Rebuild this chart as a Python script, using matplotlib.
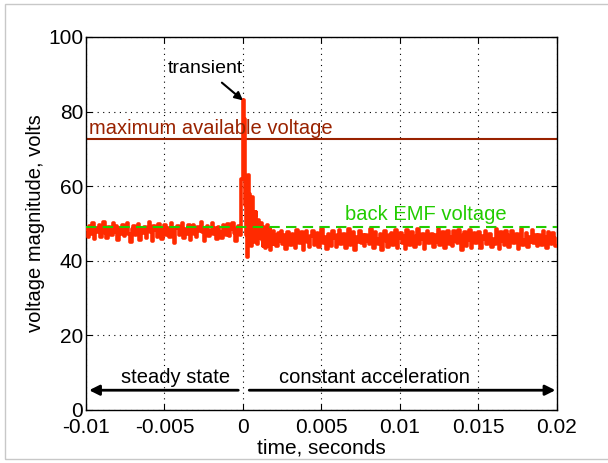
import matplotlib.pyplot as plt
import numpy as np
from matplotlib.patches import Rectangle

plt.rcParams['font.family'] = ['Liberation Sans', 'DejaVu Sans']

# steady state samples, t = -0.01 .. 0, every 0.1 ms
steady_volts = [
    48.6, 46.3, 49.2, 47.1, 50.1, 45.9, 48.8, 47.6, 49.5, 46.4,
    48.1, 50.3, 47.4, 46.0, 49.0, 48.2, 46.9, 50.0, 47.8, 49.3,
    45.5, 48.7, 47.2, 49.7, 46.6, 48.9, 50.2, 47.3, 45.0, 48.4,
    49.4, 46.8, 48.0, 49.9, 45.7, 48.6, 47.5, 49.1, 46.2, 48.8,
    50.4, 47.7, 45.2, 49.3, 48.3, 46.5, 49.8, 47.9, 45.8, 48.5,
    49.6, 47.0, 48.9, 46.3, 50.1, 47.4, 44.8, 48.7, 49.2, 46.9,
    48.2, 50.0, 46.1, 48.6, 47.3, 49.5, 45.6, 48.4, 49.7, 47.1,
    46.4, 49.0, 48.1, 50.3, 47.6, 45.3, 48.8, 49.4, 46.7, 48.0,
    50.2, 47.2, 48.9, 45.9, 49.1, 47.8, 46.2, 49.6, 48.3, 47.0,
    49.8, 46.6, 48.5, 50.0, 47.5, 45.4, 48.7, 49.3, 46.8, 62.0,
]

# transient samples, t = 0 .. 0.002, every 0.05 ms
transient_volts = [
    83.0, 78.0, 62.0, 55.0, 47.0, 41.0, 50.0, 63.0, 58.0, 49.0,
    44.0, 55.0, 57.0, 50.0, 45.0, 52.0, 53.0, 47.0, 44.5, 51.0,
    50.5, 46.0, 48.5, 50.0, 45.5, 44.0, 49.0, 47.5, 43.5, 48.0,
    46.5, 49.5, 44.0, 47.5, 48.5, 43.0, 47.0, 46.0, 48.0, 44.5,
]

# constant acceleration samples, t = 0.002 .. 0.02, every 0.1 ms
accel_volts = [
    46.8, 43.9, 47.5, 45.2, 48.1, 44.6, 46.9, 43.2, 47.8, 45.5,
    44.1, 47.2, 45.9, 43.5, 48.3, 46.1, 44.8, 47.6, 42.9, 46.4,
    47.9, 45.0, 43.8, 46.7, 48.0, 44.3, 46.2, 47.4, 43.6, 45.8,
    48.4, 44.9, 46.5, 43.1, 47.3, 45.6, 44.0, 47.9, 46.0, 43.7,
    46.9, 48.2, 44.5, 45.7, 47.1, 43.4, 46.6, 48.5, 44.2, 45.3,
    47.6, 43.0, 46.3, 45.1, 48.1, 44.7, 46.8, 43.9, 47.0, 45.4,
    44.4, 48.6, 46.0, 43.3, 47.7, 45.9, 44.6, 47.2, 42.8, 46.5,
    48.0, 45.2, 43.7, 46.9, 47.5, 44.1, 45.8, 48.3, 43.5, 46.2,
    47.4, 44.8, 46.6, 43.2, 48.2, 45.5, 44.3, 47.8, 46.1, 43.8,
    46.7, 48.4, 44.6, 45.9, 47.1, 43.1, 46.4, 48.0, 44.9, 45.6,
    47.3, 43.6, 46.8, 45.0, 48.5, 44.2, 46.0, 47.6, 43.4, 45.7,
    48.1, 44.5, 46.3, 43.9, 47.9, 45.3, 44.7, 48.3, 46.5, 43.0,
    46.9, 47.7, 44.0, 45.6, 48.2, 43.5, 46.2, 47.4, 44.8, 45.1,
    47.8, 43.3, 46.7, 45.8, 48.0, 44.4, 46.1, 47.2, 43.7, 45.9,
    44.6, 48.4, 46.4, 43.1, 47.6, 45.4, 44.2, 47.9, 46.8, 43.8,
    46.0, 48.1, 44.9, 45.5, 47.3, 43.2, 46.6, 48.6, 44.3, 45.7,
    47.5, 43.6, 46.3, 45.1, 48.2, 44.7, 46.9, 43.9, 47.0, 45.2,
    44.1, 48.0, 46.5, 43.4, 47.7, 45.8, 44.5, 47.4, 46.2, 44.0,
]

max_voltage = 72.6
back_emf = 49.1

xticks = [-0.01, -0.005, 0, 0.005, 0.01, 0.015, 0.02]
xtick_labels = ['-0.01', '-0.005', '0', '0.005', '0.01', '0.015', '0.02']
yticks = [0, 20, 40, 60, 80, 100]

# time axis for each segment
t_steady = -0.01 + 1e-4 * np.arange(len(steady_volts))
t_trans = 5e-5 * np.arange(len(transient_volts))
t_accel = 0.002 + 1e-4 * np.arange(len(accel_volts))
t = np.concatenate([t_steady, t_trans, t_accel, [0.02]])
v = np.concatenate([steady_volts, transient_volts, accel_volts, [accel_volts[-1]]])

fig = plt.figure(figsize=(6.08, 4.63), dpi=100)
fig.patches.append(Rectangle((5 / 608, 4 / 463), 1.0, 1 - 8 / 463, transform=fig.transFigure,
                             fill=False, edgecolor='#c8c8c8', lw=1))
ax = fig.add_axes([0.1414, 0.1145, 0.7747, 0.8056])

ax.plot(t, v, drawstyle='steps-post', color='#ff2a00', lw=2.6, zorder=3)
ax.axhline(max_voltage, color='#992200', lw=1.5, zorder=2)
ax.axhline(back_emf, color='#22cc00', lw=1.5, ls=(0, (5, 3)), zorder=4)

ax.set_xlim(-0.01, 0.02)
ax.set_ylim(0, 100)
ax.set_xticks(xticks)
ax.set_xticklabels(xtick_labels)
ax.set_yticks(yticks)
ax.tick_params(direction='in', top=True, right=True, labelsize=15, length=4, pad=2)
ax.tick_params(axis='x', pad=6)
ax.grid(True, color='k', ls=(0, (1, 4)), lw=0.8)
for s in ax.spines.values():
    s.set_linewidth(1)

ax.set_xlabel('time, seconds', fontsize=15, labelpad=1)
ax.set_ylabel('voltage magnitude, volts', fontsize=14.5, labelpad=2)

# annotations
ax.text(-0.0098, max_voltage + 0.2, 'maximum available voltage', color='#992200', fontsize=14.5,
        va='bottom', ha='left')
ax.text(0.0065, back_emf + 0.7, 'back EMF voltage', color='#22cc00', fontsize=14.5,
        va='bottom', ha='left')
ax.annotate('transient', xy=(0.0, 83), xytext=(-0.0024, 91.5), fontsize=14, ha='center', va='center',
            arrowprops=dict(arrowstyle='-|>', color='k', lw=1.5, mutation_scale=12, shrinkA=3, shrinkB=0))

arrow_kw = dict(arrowstyle='-|>', color='k', lw=2, mutation_scale=15, shrinkA=0, shrinkB=0)
ax.annotate('', xy=(-0.0098, 5.3), xytext=(-0.0003, 5.3), arrowprops=arrow_kw)
ax.annotate('', xy=(0.0199, 5.3), xytext=(0.0004, 5.3), arrowprops=arrow_kw)
ax.text(-0.0043, 8.6, 'steady state', fontsize=14.5, ha='center', va='center')
ax.text(0.0084, 8.6, 'constant acceleration', fontsize=14.5, ha='center', va='center')

fig.savefig('out.png', dpi=100)
